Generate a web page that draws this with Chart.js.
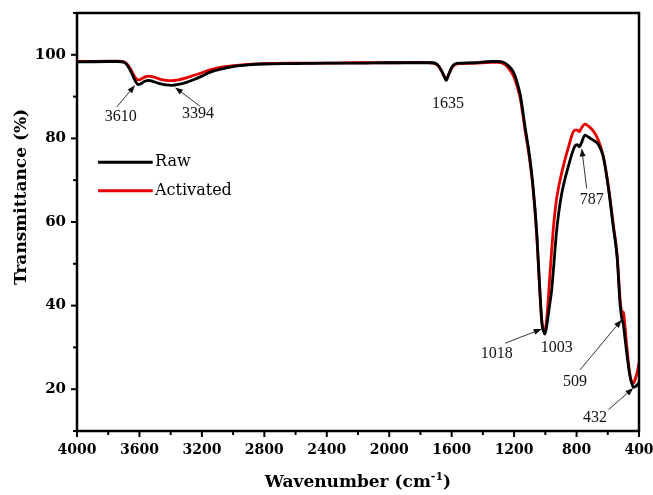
<!DOCTYPE html>
<html>
<head>
<meta charset="utf-8">
<script src="https://cdn.jsdelivr.net/npm/chart.js@4.4.0/dist/chart.umd.min.js"></script>
<style>
  html, body { margin: 0; padding: 0; background: #fff; }
</style>
</head>
<body>
<canvas id="myChart" width="653" height="495"></canvas>
<script>
// FTIR spectra, wavenumber (cm-1) vs transmittance (%)
const wavenumbers = [4000, 3800, 3740, 3700, 3680, 3660, 3640, 3625, 3610, 3595, 3570, 3540, 3510, 3470, 3430, 3394,
  3350, 3300, 3250, 3200, 3150, 3100, 3000, 2900, 2800, 2600, 2400, 2200, 2000, 1800, 1720, 1690, 1665, 1650, 1635,
  1620, 1600, 1580, 1540, 1450, 1350, 1300, 1270, 1240, 1205, 1180, 1160, 1130, 1100, 1080, 1055, 1040, 1025, 1018,
  1010, 1003, 995, 985, 975, 960, 945, 930, 915, 895, 855, 810, 795, 782, 770, 746, 720, 693, 661, 629, 597, 565,
  540, 520, 509, 500, 490, 475, 460, 445, 436, 425, 412, 400];

const rawT = [98.3, 98.4, 98.4, 98.2, 97.6, 96.4, 94.8, 93.6, 92.9, 93.0, 93.6, 93.9, 93.6, 93.1, 92.8, 92.7,
  92.9, 93.4, 94.1, 94.9, 95.8, 96.4, 97.2, 97.6, 97.8, 97.9, 98.0, 98.0, 98.1, 98.1, 98.1, 97.6, 96.2, 95.0, 93.9,
  95.2, 97.0, 97.8, 98.0, 98.1, 98.4, 98.4, 98.2, 97.5, 95.9, 93.3, 90.3, 82.8, 75.5, 69.0, 57.4, 47.0, 37.5, 34.6,
  33.8, 33.2, 34.3, 36.8, 39.5, 43.5, 50.0, 57.0, 62.0, 66.8, 73.0, 78.2, 78.5, 78.0, 78.8, 80.8, 80.2, 79.6, 78.6,
  75.6, 68.4, 58.9, 51.5, 39.8, 36.7, 35.5, 32.2, 27.6, 23.6, 21.2, 20.5, 20.6, 21.0, 21.6];

const activatedT = [98.4, 98.5, 98.5, 98.3, 97.8, 96.8, 95.4, 94.5, 94.0, 94.1, 94.6, 94.9, 94.7, 94.2, 93.9, 93.8,
  94.0, 94.5, 95.1, 95.7, 96.4, 96.9, 97.4, 97.7, 97.9, 98.0, 98.0, 98.1, 98.1, 98.2, 98.0, 97.5, 96.1, 95.0, 94.1,
  95.2, 96.8, 97.6, 97.9, 98.0, 98.2, 98.2, 97.9, 97.0, 95.0, 92.4, 89.4, 82.0, 74.8, 68.5, 56.8, 46.5, 37.2, 35.0,
  34.2, 33.8, 35.5, 39.5, 45.0, 53.0, 60.0, 65.0, 68.3, 71.8, 77.5, 82.0, 82.0, 81.6, 82.4, 83.4, 82.8, 81.8, 79.6,
  75.8, 68.8, 59.5, 52.0, 41.0, 38.6, 38.4, 35.2, 29.0, 24.0, 21.6, 21.4, 22.4, 24.0, 26.3];

const xTickLabels = [4000, 3600, 3200, 2800, 2400, 2000, 1600, 1200, 800, 400];
const yTickLabels = [20, 40, 60, 80, 100];

// peak labels: text position and optional arrow (tail -> head), all in data units
const peaks = [
  { text: '3610', x: 3720, y: 85.1, arrow: [3746, 87.5, 3628, 92.7] },
  { text: '3394', x: 3225, y: 86.0, arrow: [3212, 87.7, 3372, 92.2] },
  { text: '1635', x: 1623, y: 88.2 },
  { text: '787', x: 703, y: 65.2, arrow: [735, 68.0, 767, 77.6] },
  { text: '1018', x: 1311, y: 28.4, arrow: [1258, 31.0, 1023, 34.4] },
  { text: '1003', x: 927, y: 29.8 },
  { text: '509', x: 810, y: 21.8, arrow: [778, 24.6, 511, 36.6] },
  { text: '432', x: 682, y: 13.1, arrow: [596, 15.1, 436, 20.3] }
];

const legendItems = [
  { label: 'Raw', color: '#000000', y: 74.3 },
  { label: 'Activated', color: '#e60000', y: 67.5 }
];

const serif = "'DejaVu Serif', serif";

function drawArrow(ctx, x1, y1, x2, y2) {
  const a = Math.atan2(y2 - y1, x2 - x1);
  const c = Math.cos(a), s = Math.sin(a);
  ctx.beginPath();
  ctx.moveTo(x1, y1);
  ctx.lineTo(x2 - 6 * c, y2 - 6 * s);
  ctx.stroke();
  ctx.beginPath();
  ctx.moveTo(x2, y2);
  ctx.lineTo(x2 - 8 * c + 3 * s, y2 - 8 * s - 3 * c);
  ctx.lineTo(x2 - 8 * c - 3 * s, y2 - 8 * s + 3 * c);
  ctx.closePath();
  ctx.fill();
}

const ftirDecor = {
  id: 'ftirDecor',
  afterDraw(chart) {
    const { ctx, chartArea: area, scales: { x, y } } = chart;
    ctx.save();

    // frame
    ctx.strokeStyle = '#000';
    ctx.lineWidth = 2.5;
    ctx.strokeRect(area.left, area.top, area.right - area.left, area.bottom - area.top);

    // outward ticks, major longer
    ctx.lineWidth = 2;
    x.ticks.forEach(t => {
      const px = x.getPixelForValue(t.value);
      const len = t.value % 400 === 0 ? 6 : 4;
      ctx.beginPath();
      ctx.moveTo(px, area.bottom);
      ctx.lineTo(px, area.bottom + len);
      ctx.stroke();
    });
    y.ticks.forEach(t => {
      const py = y.getPixelForValue(t.value);
      const len = t.value % 20 === 0 ? 6 : 4;
      ctx.beginPath();
      ctx.moveTo(area.left, py);
      ctx.lineTo(area.left - len, py);
      ctx.stroke();
    });

    // legend inside plot
    legendItems.forEach(item => {
      const py = y.getPixelForValue(item.y);
      ctx.strokeStyle = item.color;
      ctx.lineWidth = 3;
      ctx.beginPath();
      ctx.moveTo(x.getPixelForValue(3865), py);
      ctx.lineTo(x.getPixelForValue(3515), py);
      ctx.stroke();
      ctx.fillStyle = '#000';
      ctx.font = '16px ' + serif;
      ctx.textAlign = 'left';
      ctx.textBaseline = 'middle';
      ctx.fillText(item.label, x.getPixelForValue(3500), py);
    });

    // peak annotations
    ctx.font = "16px 'Liberation Serif', serif";
    ctx.textAlign = 'center';
    ctx.textBaseline = 'middle';
    ctx.strokeStyle = '#333';
    ctx.lineWidth = 1;
    ctx.fillStyle = '#111';
    peaks.forEach(p => {
      ctx.fillText(p.text, x.getPixelForValue(p.x), y.getPixelForValue(p.y));
      if (p.arrow) {
        const [x1, y1, x2, y2] = p.arrow;
        drawArrow(ctx, x.getPixelForValue(x1), y.getPixelForValue(y1),
          x.getPixelForValue(x2), y.getPixelForValue(y2));
      }
    });

    // axis titles
    ctx.fillStyle = '#000';
    ctx.font = 'bold 17px ' + serif;
    ctx.textBaseline = 'middle';
    const main = 'Wavenumber (cm', sup = '-1', close = ')';
    const wMain = ctx.measureText(main).width;
    const wClose = ctx.measureText(close).width;
    ctx.font = 'bold 11px ' + serif;
    const wSup = ctx.measureText(sup).width;
    const cx = (area.left + area.right) / 2;
    const ty = 483;
    let sx = cx - (wMain + wSup + wClose) / 2;
    ctx.textAlign = 'left';
    ctx.font = 'bold 17px ' + serif;
    ctx.fillText(main, sx, ty);
    ctx.font = 'bold 11px ' + serif;
    ctx.fillText(sup, sx + wMain, ty - 6);
    ctx.font = 'bold 17px ' + serif;
    ctx.fillText(close, sx + wMain + wSup, ty);

    ctx.translate(22, y.getPixelForValue(66));
    ctx.rotate(-Math.PI / 2);
    ctx.textAlign = 'center';
    ctx.fillText('Transmittance (%)', 0, 0);

    ctx.restore();
  }
};

const ctx = document.getElementById('myChart').getContext('2d');
const myChart = new Chart(ctx, {
  type: 'line',
  data: {
    datasets: [
      {
        label: 'Raw',
        data: wavenumbers.map((w, i) => ({ x: w, y: rawT[i] })),
        borderColor: '#000000',
        borderWidth: 2.8,
        pointRadius: 0,
        cubicInterpolationMode: 'monotone'
      },
      {
        label: 'Activated',
        data: wavenumbers.map((w, i) => ({ x: w, y: activatedT[i] })),
        borderColor: '#e60000',
        borderWidth: 2.8,
        pointRadius: 0,
        cubicInterpolationMode: 'monotone'
      }
    ]
  },
  options: {
    responsive: false,
    animation: false,
    layout: { padding: { top: 13, right: 14, bottom: 0, left: 0 } },
    plugins: {
      legend: { display: false },
      tooltip: { enabled: false }
    },
    scales: {
      x: {
        type: 'linear',
        reverse: true,
        min: 400,
        max: 4000,
        grid: { display: false, drawTicks: false },
        border: { display: false },
        ticks: {
          stepSize: 200,
          autoSkip: false,
          maxRotation: 0,
          padding: 11,
          color: '#000',
          font: { family: serif, size: 14, weight: 'bold' },
          callback: v => xTickLabels.includes(v) ? String(v) : ''
        },
        afterFit: s => { s.height = 64; s.paddingLeft = 0; s.paddingRight = 0; }
      },
      y: {
        min: 10,
        max: 110,
        grid: { display: false, drawTicks: false },
        border: { display: false },
        ticks: {
          stepSize: 10,
          autoSkip: false,
          padding: 11,
          color: '#000',
          font: { family: serif, size: 15, weight: 'bold' },
          callback: v => yTickLabels.includes(v) ? String(v) : ''
        },
        afterFit: s => { s.width = 77; s.paddingTop = 0; s.paddingBottom = 0; }
      }
    }
  },
  plugins: [ftirDecor]
});
</script>
</body>
</html>
